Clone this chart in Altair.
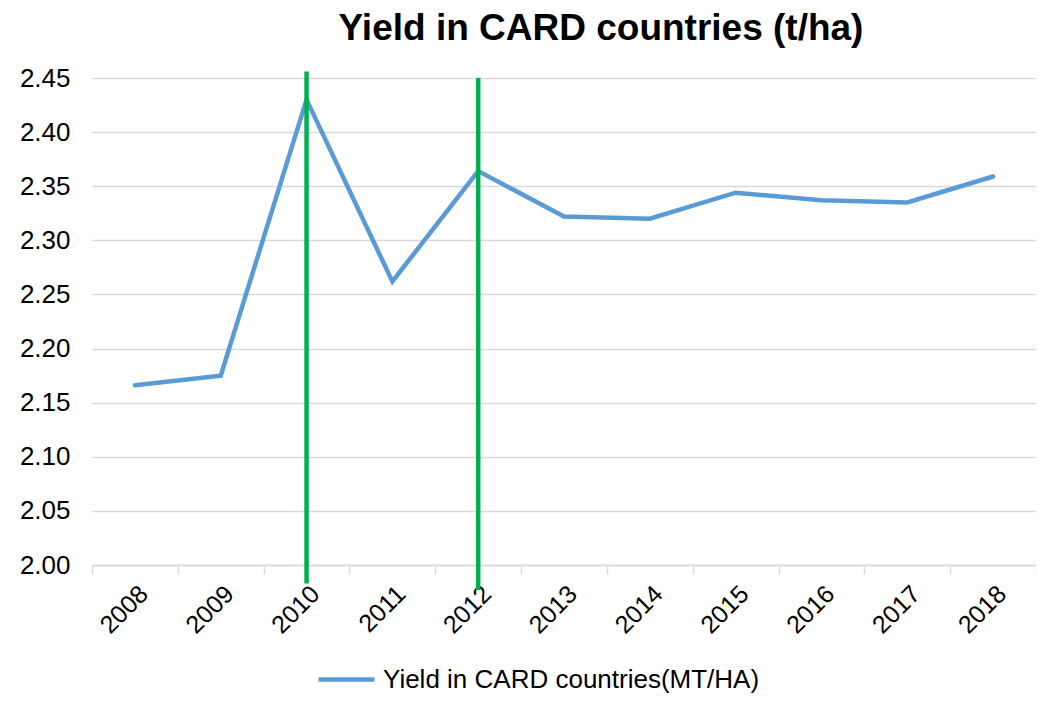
import altair as alt
import pandas as pd

years = ["2008", "2009", "2010", "2011", "2012", "2013", "2014", "2015", "2016", "2017", "2018"]
yields = [2.166, 2.175, 2.430, 2.262, 2.364, 2.322, 2.320, 2.344, 2.337, 2.335, 2.359]
series_name = "Yield in CARD countries(MT/HA)"

marker_years = ["2010", "2012"]
marker_top = [2.456, 2.450]
marker_bottom = [1.983, 1.977]

y_ticks = [2.00, 2.05, 2.10, 2.15, 2.20, 2.25, 2.30, 2.35, 2.40, 2.45]

df = pd.DataFrame({"year": years, "value": yields, "series": [series_name] * len(years)})
mk = pd.DataFrame({"year": marker_years, "top": marker_top, "bottom": marker_bottom})

font = "Liberation Sans"

x_scale = alt.Scale(type="band", domain=years, paddingInner=0, paddingOuter=0)

x_enc = alt.X(
    "year:O",
    sort=years,
    scale=x_scale,
    axis=alt.Axis(
        title=None,
        labelAngle=-45,
        labelFontSize=25,
        labelFont=font,
        labelColor="#000000",
        labelPadding=7,
        tickBand="extent",
        tickSize=9,
        tickColor="#d9d9d9",
        tickWidth=1.5,
        domainColor="#d9d9d9",
        domainWidth=1.5,
        grid=False,
    ),
)

y_scale = alt.Scale(domain=[2.0, 2.45], nice=False, zero=False)

line = alt.Chart(df).mark_line(strokeWidth=4.5, strokeCap="round").encode(
    x=x_enc,
    y=alt.Y(
        "value:Q",
        scale=y_scale,
        axis=alt.Axis(
            title=None,
            values=y_ticks,
            format=".2f",
            labelFontSize=26,
            labelFont=font,
            labelColor="#000000",
            labelPadding=22,
            ticks=False,
            domain=False,
            grid=True,
            gridColor="#d9d9d9",
            gridWidth=1.5,
        ),
    ),
    color=alt.Color(
        "series:N",
        scale=alt.Scale(domain=[series_name], range=["#5b9bd5"]),
        legend=alt.Legend(
            title=None,
            orient="none",
            legendX=224,
            legendY=571,
            padding=0,
            symbolType="stroke",
            symbolStrokeWidth=4.5,
            symbolSize=3136,
            labelFontSize=26,
            labelFont=font,
            labelColor="#000000",
            labelOffset=6,
            labelLimit=600,
        ),
    ),
)

rules = alt.Chart(mk).mark_rule(color="#00b050", strokeWidth=4.5, clip=False).encode(
    x=alt.X("year:O", sort=years, scale=x_scale),
    y=alt.Y("top:Q", scale=y_scale),
    y2="bottom:Q",
)

chart = (
    alt.layer(line, rules)
    .properties(
        width=944,
        height=487,
        autosize=alt.AutoSizeParams(type="none"),
        padding={"left": 84, "top": 70, "right": 0, "bottom": 128},
        title=alt.TitleParams(
            "Yield in CARD countries (t/ha)",
            font=font,
            fontSize=37,
            fontWeight="bold",
            color="#000000",
            anchor="middle",
            dx=37,
            offset=17,
        ),
    )
    .configure_view(stroke=None)
)

chart.save("out.html", embed_options={"renderer": "svg", "actions": False})
